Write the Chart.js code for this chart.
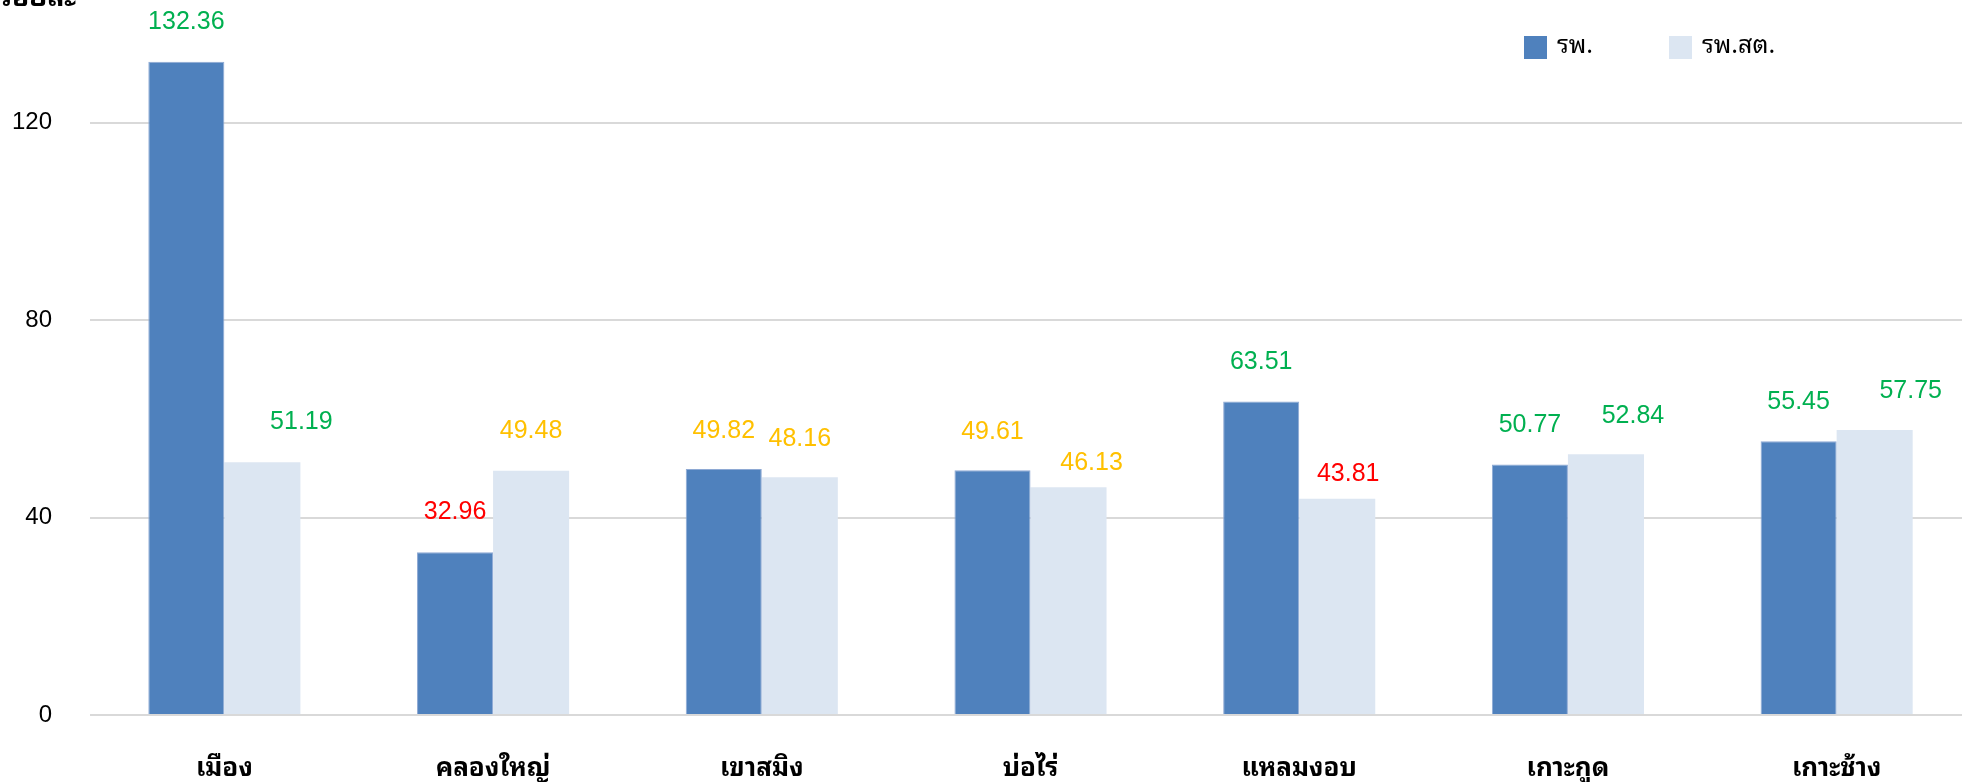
<!DOCTYPE html>
<html>
<head>
<meta charset="utf-8">
<script src="https://cdn.jsdelivr.net/npm/chart.js@4.4.1/dist/chart.umd.min.js"></script>
<style>
  html, body { margin: 0; padding: 0; background: #fff; overflow: hidden; }
  #wrap { position: absolute; left: 0; top: 0; width: 1975px; height: 782px; }
</style>
</head>
<body>
<div id="wrap"><canvas id="c" width="1975" height="782"></canvas></div>
<script>
// ---- data ----
const categories = ['เมือง', 'คลองใหญ่', 'เขาสมิง', 'บ่อไร่', 'แหลมงอบ', 'เกาะกูด', 'เกาะช้าง'];
const seriesNames = ['รพ.', 'รพ.สต.'];
const hospitalValues = [132.36, 32.96, 49.82, 49.61, 63.51, 50.77, 55.45];
const subdistrictValues = [51.19, 49.48, 48.16, 46.13, 43.81, 52.84, 57.75];
const yTicks = [0, 40, 80, 120];
const yAxisTitle = 'ร้อยละ';

// ---- label placement (style only) ----
const labelShiftX = [[0, 0, 0, 0, 0, 0, 0], [39, 0, 0, 23, 11, 27, 36]];
const labelGap = [[40, 40, 37.5, 38, 39.5, 39, 39], [40, 40, 38, 24, 25, 38.5, 39]];

const THAI = "Tahoma, 'Noto Sans Thai Looped', 'Noto Sans Thai', 'Noto Sans', sans-serif";
const NUM = "'Liberation Sans', Arial, sans-serif";

function valueColor(v) {
  if (v >= 50) return '#00B050';
  if (v >= 45) return '#FFC000';
  return '#FF0000';
}

const overlay = {
  id: 'overlay',
  afterDatasetsDraw(chart) {
    const ctx = chart.ctx;
    ctx.save();
    ctx.font = '25px ' + NUM;
    ctx.textAlign = 'center';
    ctx.textBaseline = 'middle';
    chart.data.datasets.forEach((ds, di) => {
      const meta = chart.getDatasetMeta(di);
      meta.data.forEach((bar, i) => {
        const v = ds.data[i];
        ctx.fillStyle = valueColor(v);
        ctx.fillText(v.toFixed(2), bar.x + labelShiftX[di][i], bar.y - labelGap[di][i]);
      });
    });
    ctx.font = 'bold 28px ' + THAI;
    ctx.textAlign = 'left';
    ctx.textBaseline = 'bottom';
    ctx.fillStyle = '#000';
    ctx.fillText(yAxisTitle, -2, 12);
    const legendX = [1524, 1669];
    ctx.font = '25px ' + THAI;
    ctx.textBaseline = 'middle';
    chart.data.datasets.forEach((ds, di) => {
      ctx.fillStyle = ds.backgroundColor;
      ctx.fillRect(legendX[di], 36, 23, 23);
      ctx.fillStyle = '#000';
      ctx.fillText(ds.label, legendX[di] + 33, 46);
    });
    ctx.restore();
  }
};

new Chart(document.getElementById('c'), {
  type: 'bar',
  data: {
    labels: categories,
    datasets: [
      { label: seriesNames[0], data: hospitalValues, backgroundColor: '#4F81BD', borderColor: '#8EA9D4', borderWidth: 1 },
      { label: seriesNames[1], data: subdistrictValues, backgroundColor: '#DCE6F2', borderWidth: 0 }
    ]
  },
  options: {
    responsive: false,
    animation: false,
    devicePixelRatio: 1,
    layout: { padding: { top: 24, right: 4, left: 0, bottom: 0 } },
    datasets: { bar: { barPercentage: 1, categoryPercentage: 0.566 } },
    plugins: { legend: { display: false }, tooltip: { enabled: false }, title: { display: false } },
    scales: {
      x: {
        grid: { display: false },
        border: { display: false },
        ticks: { color: '#000', font: { family: THAI, size: 26, weight: 'bold' }, padding: 30 },
        afterFit(s) { s.height = 67; s.paddingLeft = 0; s.paddingRight = 0; }
      },
      y: {
        min: 0, max: 140,
        grid: { color: '#D9D9D9', lineWidth: 2, drawTicks: false },
        border: { display: false },
        afterBuildTicks(s) { s.ticks = yTicks.map(v => ({ value: v })); },
        ticks: { color: '#000', font: { family: NUM, size: 24 }, padding: 38 },
        afterFit(s) { s.width = 90; s.paddingTop = 0; s.paddingBottom = 0; }
      }
    }
  },
  plugins: [overlay]
});
</script>
</body>
</html>
